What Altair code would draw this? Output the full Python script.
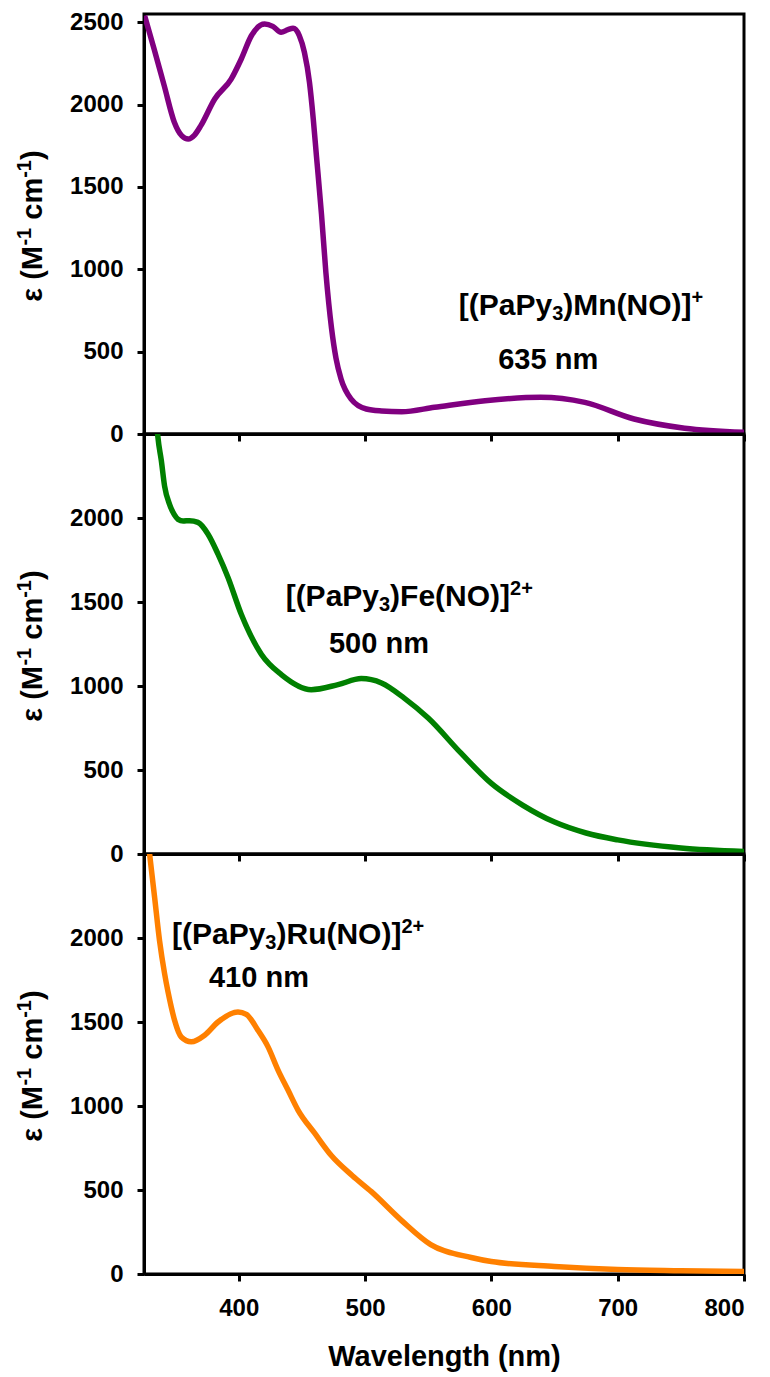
import altair as alt
import pandas as pd

FONT = "Liberation Sans"

# ---------------- data ----------------
mn_wl = [325.5, 333, 341, 349, 355, 360, 365, 370, 381, 394, 402, 410, 420.5, 427, 433.5, 439, 443, 448, 452, 456,
         459, 461.5, 465.5, 469, 473.5, 477, 481, 489, 501, 513, 529, 555, 595, 639, 674, 713, 753, 800]
mn_eps = [2540, 2338, 2115, 1893, 1810, 1791, 1815, 1872, 2034, 2155, 2277, 2418, 2489, 2475, 2439, 2455, 2463, 2418, 2317, 2135,
          1913, 1690, 1335, 980, 640, 460, 334, 212, 152, 140, 135, 162, 202, 223, 192, 91, 35, 10]

fe_wl = [334.5, 336, 338.7, 341.3, 345.3, 349, 352, 356, 361, 367.7, 375.6, 383.6, 391.5, 402, 418, 433.7, 457.4, 478.6, 497,
         513, 531, 550, 576, 600, 625, 650, 675, 700, 750, 800]
fe_eps = [2620, 2482, 2343, 2190, 2080, 2020, 1992, 1982, 1984, 1974, 1905, 1785, 1646, 1427, 1188, 1068, 978, 1008, 1044,
          1018, 928, 809, 600, 420, 290, 190, 125, 84, 36, 15]

ru_wl = [328.5, 333.4, 337.3, 341.3, 344, 346.6, 349.2, 354.5, 362.4, 373, 383.6, 399.4, 406, 415.2, 423.2, 431.1,
         439, 446.9, 460.1, 473.3, 490, 505, 529, 552, 584, 600, 650, 700, 750, 800]
ru_eps = [2560, 2242, 1985, 1788, 1680, 1589, 1510, 1411, 1382, 1421, 1500, 1560, 1546, 1451, 1352, 1214,
          1095, 976, 838, 705, 585, 490, 318, 175, 98, 74, 45, 27, 20, 15]

x_ticks = [400, 500, 600, 700, 800]
y_ticks_top = [0, 500, 1000, 1500, 2000, 2500]
y_ticks = [0, 500, 1000, 1500, 2000]

# annotation texts: (text, kind) pieces; kind: n = normal, b = subscript, p = superscript
mn_name = [("[(PaPy", "n"), ("3", "b"), (")Mn(NO)]", "n"), ("+", "p")]
fe_name = [("[(PaPy", "n"), ("3", "b"), (")Fe(NO)]", "n"), ("2+", "p")]
ru_name = [("[(PaPy", "n"), ("3", "b"), (")Ru(NO)]", "n"), ("2+", "p")]
mn_peak = [("635 nm", "n")]
fe_peak = [("500 nm", "n")]
ru_peak = [("410 nm", "n")]

mn_label_wl = [671, 645]
mn_label_eps = [722, 395]
fe_label_wl = [535, 511]
fe_label_eps = [1476, 1195]
ru_label_wl = [447, 416]
ru_label_eps = [1967, 1706]

y_title = [("\u03b5 (M", "n"), ("-1", "p"), (" cm", "n"), ("-1", "p"), (")", "n")]
x_title = "Wavelength (nm)"

# ---------------- text metrics (Arial / Liberation Sans Bold advance widths, per em) ----------------
W = {"[": .333, "]": .333, "(": .333, ")": .333, "P": .667, "a": .556, "y": .556, "M": .833, "n": .611,
     "N": .722, "O": .778, "F": .611, "e": .556, "R": .722, "u": .611, "+": .584, " ": .278, "m": .889,
     "c": .556, "-": .333, "\u03b5": .49}
for d in "0123456789":
    W[d] = .556

NAME = 30     # compound name font size
PEAK = 29     # peak wavelength font size
TITLE = 29    # y title font size
SMALL = 20    # sub/superscript font size
SUB_DY = 5
SUP_DY = -11


def width(text, size):
    return sum(W.get(ch, .6) for ch in text) * size


def rich(pieces, big, x_enc, y_enc, data=None, angle=0):
    def sz(k):
        return big if k == "n" else SMALL
    total = sum(width(t, sz(k)) for t, k in pieces)
    start = -total / 2.0
    layers = []
    for t, k in pieces:
        size = sz(k)
        dy = 0 if k == "n" else (SUB_DY if k == "b" else SUP_DY)
        lead = len(t) - len(t.lstrip(" "))
        shown = t.strip(" ")
        props = dict(text=shown, font=FONT, fontSize=size, fontWeight="bold", color="black",
                     align="left", baseline="alphabetic", dx=start + width(" " * lead, size), dy=dy)
        if angle:
            props["angle"] = angle
        base = alt.Chart(data) if data is not None else alt.Chart(pd.DataFrame({"z": [0]}))
        layers.append(base.mark_text(**props).encode(x=x_enc, y=y_enc))
        start += width(t, size)
    return layers


def panel(wl, eps, color, ymax, yticks, name, peak, lab_wl, lab_eps, bottom):
    df = pd.DataFrame({"wl": wl, "eps": eps})
    if bottom:
        xaxis = alt.Axis(values=x_ticks, format="d", title=x_title, labelPadding=15, titlePadding=22)
    else:
        xaxis = alt.Axis(values=x_ticks, labels=False, title=None)
    x = alt.X("wl:Q", scale=alt.Scale(domain=[325, 800], nice=False, zero=False), axis=xaxis)
    y = alt.Y("eps:Q", scale=alt.Scale(domain=[0, ymax], nice=False),
              axis=alt.Axis(values=yticks, format="d", title=None, labelPadding=14))
    line = alt.Chart(df).mark_line(color=color, strokeWidth=5.5, clip=True, interpolate="monotone").encode(x=x, y=y)

    layers = [line]
    d1 = pd.DataFrame({"wl": [lab_wl[0]], "eps": [lab_eps[0]]})
    d2 = pd.DataFrame({"wl": [lab_wl[1]], "eps": [lab_eps[1]]})
    layers += rich(name, NAME, alt.X("wl:Q"), alt.Y("eps:Q"), data=d1)
    layers += rich(peak, PEAK, alt.X("wl:Q"), alt.Y("eps:Q"), data=d2)
    layers += rich(y_title, TITLE, alt.value(-102), alt.value(212), angle=270)
    return alt.layer(*layers).properties(width=600, height=420)


p1 = panel(mn_wl, mn_eps, "#800080", 2550, y_ticks_top, mn_name, mn_peak, mn_label_wl, mn_label_eps, False)
p2 = panel(fe_wl, fe_eps, "#008000", 2500, y_ticks, fe_name, fe_peak, fe_label_wl, fe_label_eps, False)
p3 = panel(ru_wl, ru_eps, "#FF8000", 2500, y_ticks, ru_name, ru_peak, ru_label_wl, ru_label_eps, True)

chart = alt.vconcat(p1, p2, p3, spacing=0, bounds="flush").properties(
    padding={"left": 13, "top": 8, "right": 8, "bottom": 5},
    background="white",
).configure_view(
    stroke="black", strokeWidth=3
).configure_axis(
    grid=False, domainColor="black", domainWidth=3, tickColor="black", tickWidth=3, tickSize=7,
    labelFont=FONT, labelFontSize=24, labelFontWeight="bold", labelColor="black",
    titleFont=FONT, titleFontSize=29, titleFontWeight="bold", titleColor="black",
).configure_concat(spacing=0)

chart.save("out.html", embed_options={"renderer": "svg", "actions": False})
